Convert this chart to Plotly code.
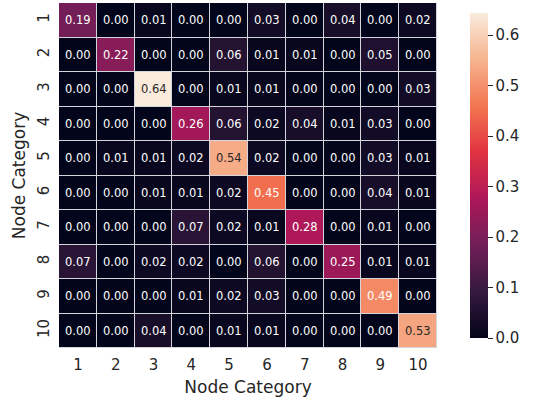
import plotly.graph_objects as go

categories = ["1", "2", "3", "4", "5", "6", "7", "8", "9", "10"]
values = [
    [0.19, 0.00, 0.01, 0.00, 0.00, 0.03, 0.00, 0.04, 0.00, 0.02],
    [0.00, 0.22, 0.00, 0.00, 0.06, 0.01, 0.01, 0.00, 0.05, 0.00],
    [0.00, 0.00, 0.644, 0.00, 0.01, 0.01, 0.00, 0.00, 0.00, 0.03],
    [0.00, 0.00, 0.00, 0.26, 0.06, 0.02, 0.04, 0.01, 0.03, 0.00],
    [0.00, 0.01, 0.01, 0.02, 0.54, 0.02, 0.00, 0.00, 0.03, 0.01],
    [0.00, 0.00, 0.01, 0.01, 0.02, 0.45, 0.00, 0.00, 0.04, 0.01],
    [0.00, 0.00, 0.00, 0.07, 0.02, 0.01, 0.28, 0.00, 0.01, 0.00],
    [0.07, 0.00, 0.02, 0.02, 0.00, 0.06, 0.00, 0.25, 0.01, 0.01],
    [0.00, 0.00, 0.00, 0.01, 0.02, 0.03, 0.00, 0.00, 0.49, 0.00],
    [0.00, 0.00, 0.04, 0.00, 0.01, 0.01, 0.00, 0.00, 0.00, 0.53],
]
colorbar_ticks = [0.0, 0.1, 0.2, 0.3, 0.4, 0.5, 0.6]

rocket = [
    [0.0, "#03051a"],
    [1/7, "#35193e"],
    [2/7, "#701f57"],
    [3/7, "#ad1759"],
    [4/7, "#e13342"],
    [5/7, "#f37651"],
    [6/7, "#f6b48f"],
    [1.0, "#faebdd"],
]

zmax = max(max(r) for r in values)
FONT = "DejaVu Sans"
TXT = "#262626"

fig = go.Figure(go.Heatmap(
    z=values, x=categories, y=categories,
    colorscale=rocket, zmin=0, zmax=zmax,
    xgap=1, ygap=1,
    colorbar=dict(
        thickness=18, len=1, lenmode="fraction", y=0.5, yanchor="middle",
        x=1.061, xanchor="left", xref="paper",
        tickvals=colorbar_ticks, ticktext=[f"{t:.1f}" for t in colorbar_ticks],
        ticks="outside", ticklen=5, tickwidth=1, tickcolor=TXT,
        outlinewidth=0,
        tickfont=dict(family=FONT, size=15, color=TXT),
    ),
    hoverinfo="skip",
))

annotations = []
for i, row in enumerate(values):
    for j, v in enumerate(row):
        annotations.append(dict(
            x=j, y=i, text=f"{v:.2f}", showarrow=False,
            font=dict(family=FONT, size=11.5, color=TXT if v > 0.5 else "white"),
        ))

fig.update_layout(
    width=533, height=400,
    margin=dict(l=59, r=96, t=3, b=52),
    paper_bgcolor="white", plot_bgcolor="#d4d4dc",
    font=dict(family=FONT, color=TXT),
    annotations=annotations,
    xaxis=dict(
        type="category", automargin=False,
        title=dict(text="Node Category", font=dict(family=FONT, size=17, color=TXT), standoff=8),
        tickfont=dict(family=FONT, size=15, color=TXT),
        showgrid=False, zeroline=False, ticks="", ticklabelstandoff=6,
    ),
    yaxis=dict(
        type="category", automargin=False,
        title=dict(text="Node Category", font=dict(family=FONT, size=17, color=TXT), standoff=5),
        tickfont=dict(family=FONT, size=15, color=TXT),
        autorange="reversed", tickangle=-90,
        showgrid=False, zeroline=False, ticks="", ticklabelstandoff=6,
    ),
)

fig.write_html("out.html", config={"displayModeBar": False},
               post_script="document.body.style.margin='0px';")
